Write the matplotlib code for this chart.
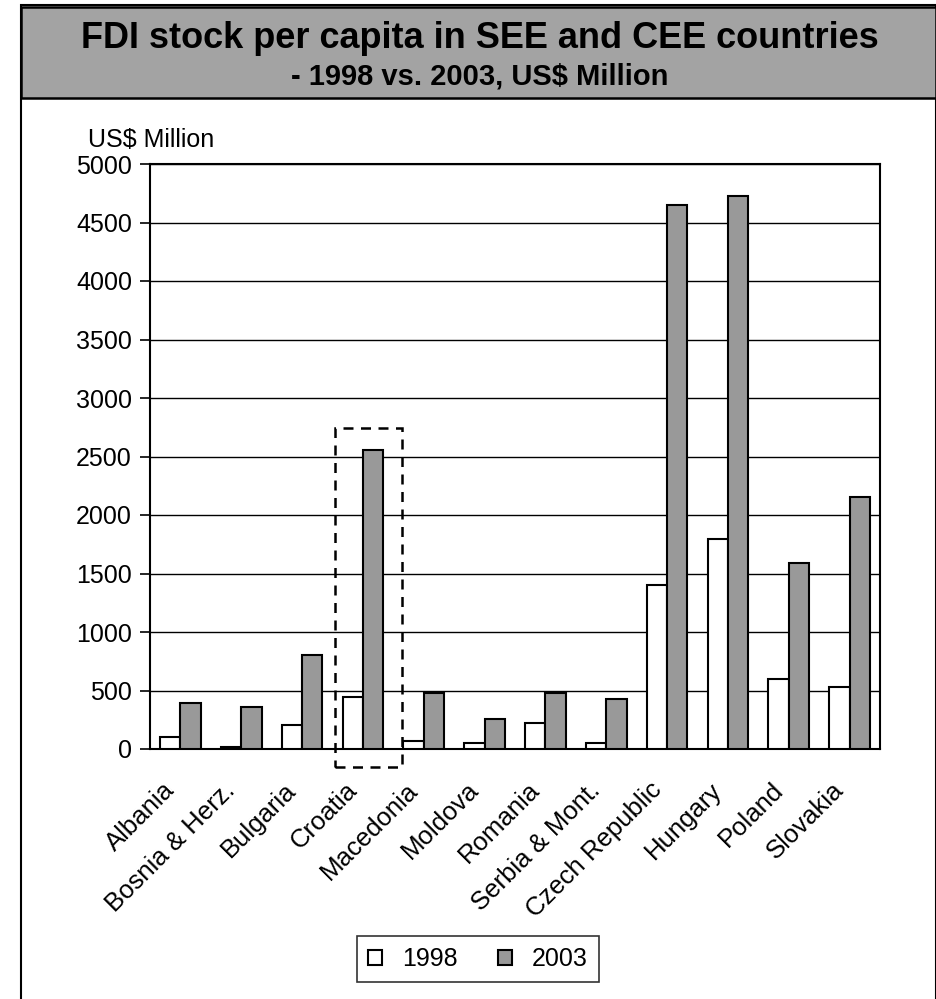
import numpy as np
import matplotlib
matplotlib.use("Agg")
import matplotlib.pyplot as plt
from matplotlib.patches import Rectangle
from matplotlib.transforms import ScaledTranslation

plt.rcParams['font.family'] = ['Liberation Sans', 'DejaVu Sans']

countries = ['Albania', 'Bosnia & Herz.', 'Bulgaria', 'Croatia', 'Macedonia', 'Moldova',
             'Romania', 'Serbia & Mont.', 'Czech Republic', 'Hungary', 'Poland', 'Slovakia']
fdi_1998 = [100, 20, 205, 444, 71, 52, 220, 49, 1399, 1792, 596, 530]
fdi_2003 = [395, 359, 800, 2556, 476, 256, 475, 425, 4650, 4724, 1590, 2152]
yticks = [0, 500, 1000, 1500, 2000, 2500, 3000, 3500, 4000, 4500, 5000]

W, H = 937, 999
fig = plt.figure(figsize=(W / 100, H / 100), dpi=100)

# outer frame + grey title band (pixel coords -> figure fraction)
def px(x, y):
    return x / W, 1 - y / H

fig.patches.append(Rectangle(px(21, 1005), 915 / W, 1000 / H, transform=fig.transFigure,
                             facecolor='white', edgecolor='black', lw=1.5, zorder=-5))
fig.patches.append(Rectangle(px(21, 98), 915 / W, 91 / H, transform=fig.transFigure,
                             facecolor='#a3a3a3', edgecolor='black', lw=1.8, zorder=-4))
fig.text(480 / W, 1 - 39 / H, 'FDI stock per capita in SEE and CEE countries',
         ha='center', va='center', fontsize=26, fontweight='bold')
fig.text(480 / W, 1 - 76 / H, '- 1998 vs. 2003, US$ Million',
         ha='center', va='center', fontsize=21, fontweight='bold')

ax = fig.add_axes([150 / W, 1 - 749 / H, 730 / W, (749 - 164) / H])
x = np.arange(len(countries))
bw = 1 / 3
ax.bar(x - bw / 2, fdi_1998, bw, color='white', edgecolor='black', lw=1.5, label='1998', zorder=3)
ax.bar(x + bw / 2, fdi_2003, bw, color='#999999', edgecolor='black', lw=1.5, label='2003', zorder=3)

ax.set_xlim(-0.5, len(countries) - 0.5)
ax.set_ylim(0, 5000)
ax.set_yticks(yticks)
ax.set_yticklabels([str(v) for v in yticks], fontsize=18)
ax.yaxis.grid(True, color='black', lw=1)
ax.set_axisbelow(True)
ax.tick_params(axis='y', direction='out', length=7, width=1.2, pad=6)
ax.tick_params(axis='x', length=0, pad=0)
ax.set_xticks(x)
ax.set_xticklabels(countries, rotation=45, ha='right', rotation_mode='anchor', fontsize=18.5)
shift = ScaledTranslation(-18 / 100, -29 / 100, fig.dpi_scale_trans)
for lab in ax.get_xticklabels():
    lab.set_transform(lab.get_transform() + shift)
for s in ax.spines.values():
    s.set_linewidth(1.5)

ax.text(-0.085, 1.02, 'US$ Million', transform=ax.transAxes, ha='left', va='bottom', fontsize=18)

# dashed highlight box round Croatia
ax.add_patch(Rectangle((2.54, -155), 1.1, 2900, fill=False, ls=(0, (4, 3)),
                       lw=1.8, edgecolor='black', clip_on=False, zorder=4))

leg = fig.legend(loc='center', bbox_to_anchor=(478 / W, 1 - 959 / H), ncol=2, fontsize=18,
                 frameon=True, fancybox=False, edgecolor='black', handlelength=0.55,
                 handleheight=0.55, handletextpad=0.8, columnspacing=1.6, borderpad=0.45)
leg.get_frame().set_linewidth(1.2)

fig.savefig('out.png', dpi=100)
